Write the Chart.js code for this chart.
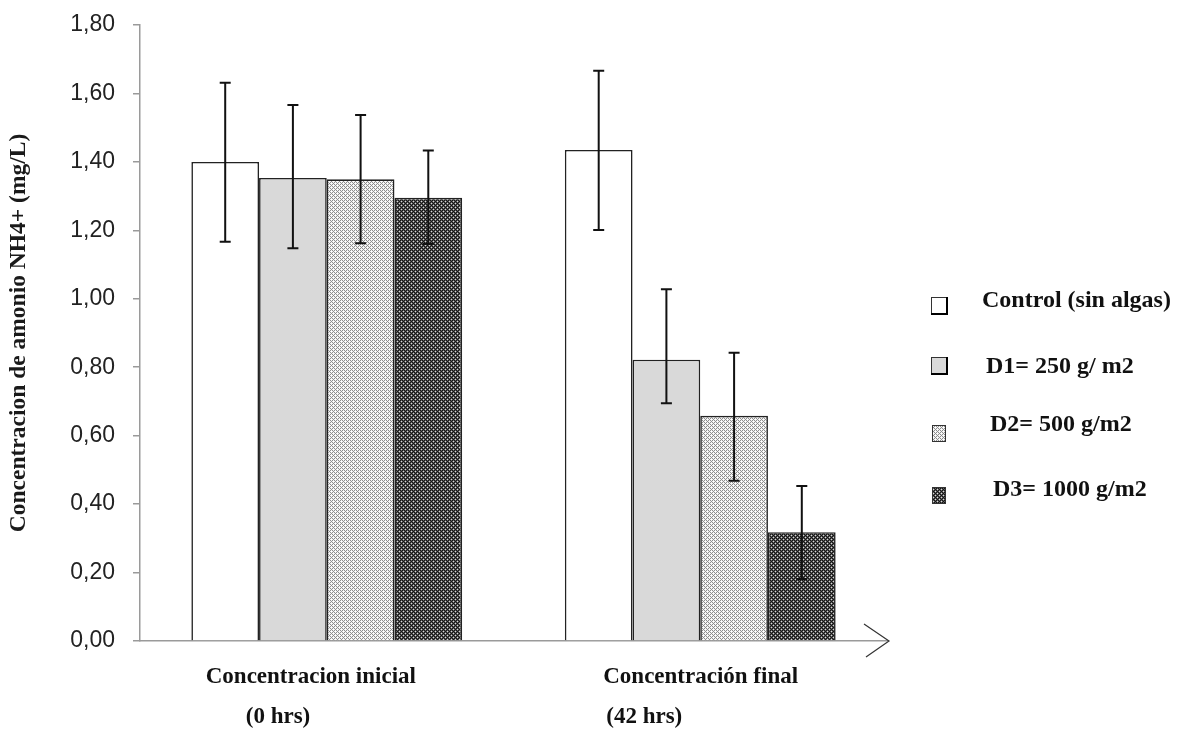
<!DOCTYPE html>
<html>
<head>
<meta charset="utf-8">
<script src="https://cdn.jsdelivr.net/npm/chart.js@4.4.1/dist/chart.umd.min.js"></script>
<style>
  html, body { margin: 0; padding: 0; background: #fff; }
  #wrap { width: 1180px; height: 729px; position: relative; }
</style>
</head>
<body>
<div id="wrap"><canvas id="bar-chart"></canvas></div>
<script>
// datos
const categories = [["Concentracion inicial", "(0 hrs)"], ["Concentración final", "(42 hrs)"]];
const seriesNames = ["Control (sin algas)", "D1= 250 g/ m2", "D2= 500 g/m2", "D3= 1000 g/m2"];
const yTicks = [0, 0.2, 0.4, 0.6, 0.8, 1.0, 1.2, 1.4, 1.6, 1.8];
const yTitle = "Concentracion de amonio NH4+ (mg/L)";

const control = [1.40, 1.435];
const d1 = [1.353, 0.822];
const d2 = [1.349, 0.658];
const d3 = [1.295, 0.318];

// extremos de las barras de error (bajo / alto)
const controlLow = [1.167, 1.201];
const controlHigh = [1.631, 1.666];
const d1Low = [1.148, 0.695];
const d1High = [1.566, 1.028];
const d2Low = [1.162, 0.468];
const d2High = [1.537, 0.842];
const d3Low = [1.160, 0.181];
const d3High = [1.433, 0.453];


function makePattern(bg, dots, light) {
    const c = document.createElement("canvas");
    c.width = 4; c.height = 4;
    const g = c.getContext("2d");
    g.fillStyle = bg;
    g.fillRect(0, 0, 4, 4);
    for (let x = 0; x < 4; x++) {
        for (let y = 0; y < 4; y++) {
            if ((x + y) % 2 === 0) {
                g.fillStyle = dots;
                g.fillRect(x, y, 1, 1);
            }
        }
    }
    g.fillStyle = light;
    g.fillRect(1, 1, 1, 1);
    g.fillRect(3, 3, 1, 1);
    return g.createPattern(c, "repeat");
}

const fillD2 = makePattern("#f2f2f2", "#8e8e8e", "#ffffff");
const fillD3 = makePattern("#5a5a5a", "#151515", "#d8d8d8");
const fills = ["#ffffff", "#d9d9d9", fillD2, fillD3];


// barras de error
const errorBars = {
    id: "errorBars",
    afterDatasetsDraw(chart) {
        const ctx = chart.ctx;
        const y = chart.scales.y;
        ctx.save();
        ctx.strokeStyle = "#111";
        ctx.lineWidth = 2;
        chart.data.datasets.forEach(function (ds, i) {
            const meta = chart.getDatasetMeta(i);
            meta.data.forEach(function (bar, j) {
                const lo = y.getPixelForValue(ds.errLow[j]);
                const hi = y.getPixelForValue(ds.errHigh[j]);
                ctx.beginPath();
                ctx.moveTo(bar.x, lo);
                ctx.lineTo(bar.x, hi);
                ctx.moveTo(bar.x - 5.5, lo);
                ctx.lineTo(bar.x + 5.5, lo);
                ctx.moveTo(bar.x - 5.5, hi);
                ctx.lineTo(bar.x + 5.5, hi);
                ctx.stroke();
            });
        });
        ctx.restore();
    }
};

// flecha, etiquetas del eje x y leyenda
const extras = {
    id: "extras",
    afterDraw(chart) {
        const ctx = chart.ctx;
        const area = chart.chartArea;
        const x = chart.scales.x;
        ctx.save();

        // flecha
        const tipX = area.right + 2, tipY = area.bottom;
        ctx.strokeStyle = "#333";
        ctx.lineWidth = 1.2;
        ctx.beginPath();
        ctx.moveTo(tipX - 25, tipY - 17);
        ctx.lineTo(tipX, tipY);
        ctx.lineTo(tipX - 23, tipY + 16);
        ctx.stroke();

        // etiquetas x
        const offsets = [[-121, -81], [-97, -94]];
        ctx.fillStyle = "#111";
        ctx.font = "bold 23px 'Liberation Serif'";
        ctx.textBaseline = "middle";
        ctx.textAlign = "left";
        for (let i = 0; i < categories.length; i++) {
            const cx = x.getPixelForTick(i);
            ctx.fillText(categories[i][0], cx + offsets[i][0], area.bottom + 36);
            ctx.fillText(categories[i][1], cx + offsets[i][1], area.bottom + 76);
        }

        // leyenda
        ctx.font = "bold 24px 'Liberation Serif'";
        const boxes = [
            [931, 297, 16, 17, 982, 301],
            [931, 357, 16, 17, 986, 367],
            [932, 425, 13, 16, 990, 425],
            [932, 487, 13, 16, 993, 490]
        ];
        for (let i = 0; i < boxes.length; i++) {
            const b = boxes[i];
            ctx.fillStyle = fills[i];
            ctx.fillRect(b[0], b[1], b[2], b[3]);
            ctx.strokeStyle = "#333";
            ctx.lineWidth = 1;
            ctx.strokeRect(b[0] + 0.5, b[1] + 0.5, b[2], b[3]);
            if (i < 2) {
                ctx.lineWidth = 2;
                ctx.strokeStyle = "#000";
                ctx.beginPath();
                ctx.moveTo(b[0] + b[2], b[1]);
                ctx.lineTo(b[0] + b[2], b[1] + b[3]);
                ctx.lineTo(b[0], b[1] + b[3]);
                ctx.stroke();
            }
            ctx.fillStyle = "#111";
            ctx.fillText(seriesNames[i], b[4], b[5]);
        }
        ctx.restore();
    }
};


let chartBar = new Chart(document.getElementById("bar-chart"), {
    type: "bar",
    data: {
        labels: categories.map(c => c.join(" ")),
        datasets: [
            { label: seriesNames[0], data: control, errLow: controlLow, errHigh: controlHigh, backgroundColor: fills[0] },
            { label: seriesNames[1], data: d1, errLow: d1Low, errHigh: d1High, backgroundColor: fills[1] },
            { label: seriesNames[2], data: d2, errLow: d2Low, errHigh: d2High, backgroundColor: fills[2] },
            { label: seriesNames[3], data: d3, errLow: d3Low, errHigh: d3High, backgroundColor: fills[3] }
        ]
    },
    options: {
        responsive: true,
        maintainAspectRatio: false,
        animation: false,
        layout: { padding: { top: 25, right: 293, left: 0, bottom: 0 } },
        plugins: {
            legend: { display: false },
            tooltip: { enabled: false }
        },
        datasets: {
            bar: {
                categoryPercentage: 0.725,
                barPercentage: 1,
                borderColor: "#222",
                borderWidth: 1.6
            }
        },
        scales: {
            x: {
                grid: { display: false },
                ticks: { display: false },
                border: { color: "#9a9a9a", width: 1.5 },
                afterFit(s) { s.height = 88; }
            },
            y: {
                min: 0,
                max: 1.8,
                afterBuildTicks(s) { s.ticks = yTicks.map(v => ({ value: v })); },
                ticks: {
                    color: "#222",
                    padding: 18,
                    font: { family: "'Liberation Sans', Arial", size: 23 },
                    callback: v => v.toFixed(2).replace(".", ",")
                },
                grid: { drawOnChartArea: false, tickLength: 7, color: "#9a9a9a", lineWidth: 1.5 },
                border: { color: "#9a9a9a", width: 1.5 },
                title: {
                    display: true,
                    text: yTitle,
                    color: "#1a1a1a",
                    padding: { top: 5, bottom: 0 },
                    font: { family: "'Liberation Serif'", size: 23.5, weight: "bold" }
                },
                afterFit(s) {
                    s.width = 140;
                    s.paddingTop = 0;
                    s.paddingBottom = 0;
                }
            }
        }
    },
    plugins: [errorBars, extras]
});
</script>
</body>
</html>
